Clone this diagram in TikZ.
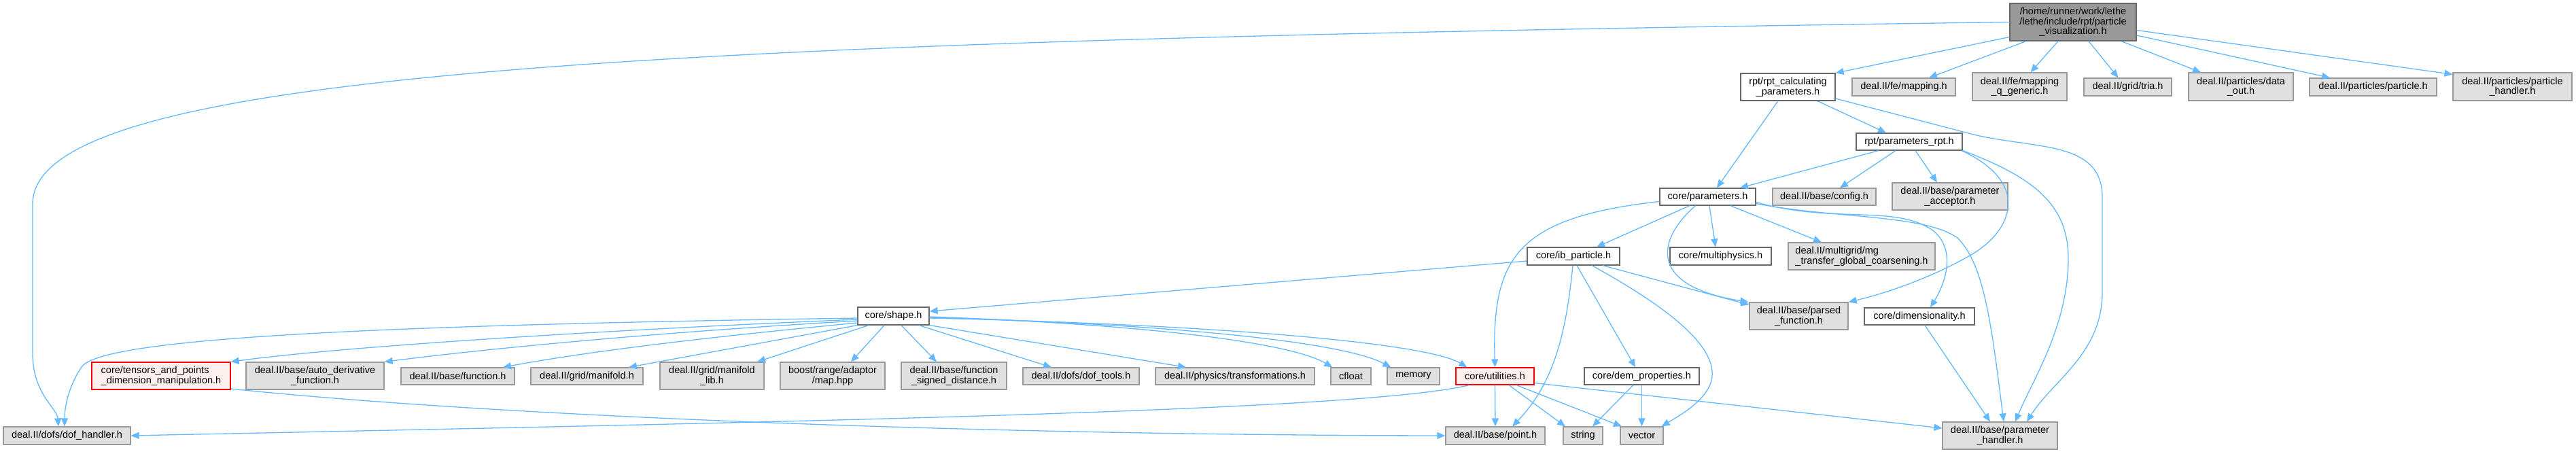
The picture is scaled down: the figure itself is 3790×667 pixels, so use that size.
\documentclass[tikz,border=0pt]{standalone}
\usepackage{fontspec}
\setmainfont{Liberation Sans}
\usetikzlibrary{arrows.meta}
\definecolor{edgec}{HTML}{63B8FF}
\definecolor{extfill}{HTML}{E0E0E0}
\definecolor{extdraw}{HTML}{999999}
\definecolor{docdraw}{HTML}{666666}
\definecolor{rootfill}{HTML}{999999}
\definecolor{redfill}{HTML}{FFF0F0}
\begin{document}
\begin{tikzpicture}[x=1pt,y=-1pt,
  nb/.style={draw, line width=1.2pt, inner sep=0pt, align=center, text=black,
    font=\fontsize{14.5}{14.5}\selectfont},
  ext/.style={nb, fill=extfill, draw=extdraw},
  doc/.style={nb, fill=white, draw=docdraw},
  rootn/.style={nb, fill=rootfill, draw=docdraw},
  redn/.style={nb, fill=redfill, draw=red},
  sz/.style 2 args={minimum width=#1pt, minimum height=#2pt},
  dep/.style={draw=edgec, line width=1.3pt, -{Triangle[length=12pt,width=10pt]}}
]
\useasboundingbox (0,0) rectangle (3790,667);
% nodes
\node[rootn, sz={186}{55}] (root) at (3050,32.5) {/home/runner/work/lethe\\/lethe/include/rpt/particle\\\_visualization.h};
\node[doc, sz={139}{40}] (rcalc) at (2630.5,128) {rpt/rpt\_calculating\\\_parameters.h};
\node[ext, sz={152}{26}] (mapping) at (2801,128) {deal.II/fe/mapping.h};
\node[ext, sz={139}{41}] (mqg) at (2971.5,127.5) {deal.II/fe/mapping\\\_q\_generic.h};
\node[ext, sz={129}{26}] (tria) at (3130.5,128) {deal.II/grid/tria.h};
\node[ext, sz={154}{41}] (dataout) at (3297,127.5) {deal.II/particles/data\\\_out.h};
\node[ext, sz={187}{26}] (particle) at (3491.5,128) {deal.II/particles/particle.h};
\node[ext, sz={175}{41}] (phandler) at (3696.5,127.5) {deal.II/particles/particle\\\_handler.h};
\node[doc, sz={156}{25}] (prpt) at (2809,208.5) {rpt/parameters\_rpt.h};
\node[doc, sz={141}{25}] (params) at (2512.5,289.5) {core/parameters.h};
\node[ext, sz={152}{25}] (config) at (2684,289.5) {deal.II/base/config.h};
\node[ext, sz={170}{40}] (acceptor) at (2869,289) {deal.II/base/parameter\\\_acceptor.h};
\node[doc, sz={136}{26}] (ib) at (2315,377) {core/ib\_particle.h};
\node[doc, sz={149}{26}] (multi) at (2531.5,377) {core/multiphysics.h};
\node[ext, sz={216}{40}, align=left] (mg) at (2739,377) {deal.II/multigrid/mg\\\_transfer\_global\_coarsening.h};
\node[doc, sz={105}{26}] (shape) at (1314.5,465) {core/shape.h};
\node[ext, sz={145}{40}] (parsed) at (2646.5,465) {deal.II/base/parsed\\\_function.h};
\node[doc, sz={162}{25}] (dimen) at (2824,465.5) {core/dimensionality.h};
\node[redn, sz={204}{40}, align=left] (tensors) at (237,553) {core/tensors\_and\_points\\\_dimension\_manipulation.h};
\node[ext, sz={203}{40}] (autod) at (463.5,553) {deal.II/base/auto\_derivative\\\_function.h};
\node[ext, sz={167}{25}] (function) at (673.5,553.5) {deal.II/base/function.h};
\node[ext, sz={165}{25}] (manifold) at (863.5,553.5) {deal.II/grid/manifold.h};
\node[ext, sz={153}{40}] (manlib) at (1047.5,553) {deal.II/grid/manifold\\\_lib.h};
\node[ext, sz={154}{40}] (boostmap) at (1225,553) {boost/range/adaptor\\/map.hpp};
\node[ext, sz={155}{40}] (signed) at (1403.5,553) {deal.II/base/function\\\_signed\_distance.h};
\node[ext, sz={171}{25}] (doftools) at (1590.5,553.5) {deal.II/dofs/dof\_tools.h};
\node[ext, sz={234}{25}] (transf) at (1817,553.5) {deal.II/physics/transformations.h};
\node[ext, sz={59}{25}] (cfloat) at (1987.5,553.5) {cfloat};
\node[ext, sz={77}{25}] (memory) at (2079.5,553.5) {memory};
\node[redn, sz={115}{25}] (util) at (2199.5,553.5) {core/utilities.h};
\node[doc, sz={169}{25}] (dem) at (2415.5,553.5) {core/dem\_properties.h};
\node[ext, sz={187}{26}] (dofh) at (98.5,641) {deal.II/dofs/dof\_handler.h};
\node[ext, sz={146}{26}] (point) at (2200,641) {deal.II/base/point.h};
\node[ext, sz={58}{26}] (string) at (2329,641) {string};
\node[ext, sz={63}{26}] (vector) at (2415.5,641) {vector};
\node[ext, sz={169}{40}] (phand) at (2942.5,641) {deal.II/base/parameter\\\_handler.h};
% root edges
\draw[dep] (root.west) .. controls (1000,60) and (48,100) .. (48,300) -- (48,520) .. controls (48,580) and (84,600) .. ([xshift=-12.5pt]dofh.north);
\draw[dep] ([yshift=-22pt]root.west) -- (rcalc.north east);
\draw[dep] ([xshift=-69pt]root.south) -- ([xshift=37pt]mapping.north);
\draw[dep] ([xshift=-22pt]root.south) -- ([xshift=16pt]mqg.north);
\draw[dep] ([xshift=23pt]root.south) -- ([xshift=-14pt]tria.north);
\draw[dep] ([xshift=71pt]root.south) -- ([xshift=-59pt]dataout.north);
\draw[dep] ([yshift=-19.5pt]root.east) -- ([xshift=-63.5pt]particle.north);
\draw[dep] ([yshift=-12pt]root.east) -- ([yshift=-3pt]phandler.north west);
% rpt_calculating_parameters edges
\draw[dep] ([xshift=-14.5pt]rcalc.south) -- ([xshift=13.5pt]params.north);
\draw[dep] ([xshift=43.5pt]rcalc.south) -- ([xshift=-34pt]prpt.north);
\draw[dep] ([yshift=-17pt]rcalc.east) -- (2900,197) .. controls (2990,220) and (3093,205) .. (3093,290) -- (3093,430) .. controls (3093,520) and (3020,560) .. ([xshift=39.5pt]phand.north);
% parameters_rpt edges
\draw[dep] ([xshift=-45pt]prpt.south) -- ([xshift=47.5pt]params.north);
\draw[dep] ([xshift=-20pt]prpt.south) -- ([xshift=23pt]config.north);
\draw[dep] ([xshift=9pt]prpt.south) -- ([xshift=-19pt]acceptor.north);
\draw[dep] ([xshift=77pt]prpt.south) .. controls (2990,270) and (2960,340) .. (2900,375) .. controls (2830,415) and (2760,435) .. (parsed.north east);
\draw[dep] (prpt.south east) .. controls (2990,260) and (3043,300) .. (3043,380) .. controls (3043,480) and (2990,560) .. ([xshift=22.5pt]phand.north);
% core/parameters edges
\draw[dep] ([yshift=-7pt]params.west) .. controls (2230,320) and (2195,380) .. (util.north);
\draw[dep] ([xshift=-26.5pt]params.south) -- ([xshift=34pt]ib.north);
\draw[dep] ([xshift=-18pt]params.south) .. controls (2440,350) and (2420,420) .. ([xshift=-1pt]parsed.north west);
\draw[dep] ([xshift=2.5pt]params.south) -- ([xshift=-7.5pt]multi.north);
\draw[dep] ([xshift=33.5pt]params.south) -- ([xshift=-59pt]mg.north);
\draw[dep] ([yshift=-8pt]params.east) .. controls (2700,330) and (2790,300) .. (2845,340) .. controls (2880,370) and (2860,420) .. ([xshift=16pt]dimen.north);
\draw[dep] ([yshift=-10pt]params.east) .. controls (2700,322) and (2830,315) .. (2880,350) .. controls (2920,390) and (2930,480) .. ([xshift=5.5pt]phand.north);
% ib_particle edges
\draw[dep] ([yshift=-7pt]ib.west) -- ([yshift=7pt]shape.east);
\draw[dep] ([xshift=43pt]ib.south) -- ([yshift=-4pt]parsed.north west);
\draw[dep] ([xshift=-1pt]ib.south) .. controls (2305,480) and (2290,560) .. ([xshift=25pt]point.north);
\draw[dep] ([xshift=5pt]ib.south) -- ([xshift=-9.5pt]dem.north);
\draw[dep] ([xshift=27pt]ib.south) .. controls (2450,450) and (2530,510) .. (2518,560) .. controls (2510,590) and (2470,612) .. ([xshift=-3pt]vector.north east);
% utilities edges
\draw[dep] ([xshift=-37.5pt]util.south) .. controls (2000,605) and (1200,620) .. (dofh.east);
\draw[dep] (util.south) -- (point.north);
\draw[dep] ([xshift=20.5pt]util.south) -- ([xshift=-26pt]string.north);
\draw[dep] ([xshift=31.5pt]util.south) -- ([xshift=-29.5pt]vector.north);
\draw[dep] ([yshift=-10pt]util.east) -- ([yshift=11pt]phand.west);
% dem_properties, dimensionality
\draw[dep] ([xshift=-12.5pt]dem.south) -- ([xshift=14pt]string.north);
\draw[dep] (dem.south) -- (vector.north);
\draw[dep] ([xshift=8pt]dimen.south) -- ([xshift=-14.5pt]phand.north);
% tensors
\draw[dep] ([yshift=-19pt]tensors.east) .. controls (700,610) and (1400,640) .. (point.west);
% shape edges
\draw[dep] ([yshift=-3pt]shape.west) .. controls (600,478) and (150,495) .. (120,540) .. controls (100,570) and (95,600) .. ([xshift=-3.5pt]dofh.north);
\draw[dep] ([yshift=-5pt]shape.west) .. controls (900,485) and (500,510) .. (tensors.north east);
\draw[dep] ([yshift=-7pt]shape.west) .. controls (950,490) and (700,515) .. (autod.north east);
\draw[dep] ([yshift=-10pt]shape.west) .. controls (1000,500) and (850,520) .. ([xshift=66.5pt]function.north);
\draw[dep] (shape.south west) -- ([xshift=61.5pt]manifold.north);
\draw[dep] ([xshift=-36.5pt]shape.south) -- ([xshift=66.5pt]manlib.north);
\draw[dep] ([xshift=-13.5pt]shape.south) -- ([xshift=27pt]boostmap.north);
\draw[dep] ([xshift=11.5pt]shape.south) -- ([xshift=-25.5pt]signed.north);
\draw[dep] ([xshift=37.5pt]shape.south) -- ([xshift=-43.5pt]doftools.north);
\draw[dep] (shape.south east) -- ([xshift=-72pt]transf.north);
\draw[dep] ([yshift=-1pt]shape.east) .. controls (1700,478) and (1900,505) .. ([xshift=3pt]cfloat.north west);
\draw[dep] ([yshift=-2pt]shape.east) .. controls (1750,478) and (1980,505) .. ([xshift=6pt]memory.north west);
\draw[dep] ([yshift=-3pt]shape.east) .. controls (1800,478) and (2100,505) .. ([xshift=17pt]util.north west);
\end{tikzpicture}
\end{document}
